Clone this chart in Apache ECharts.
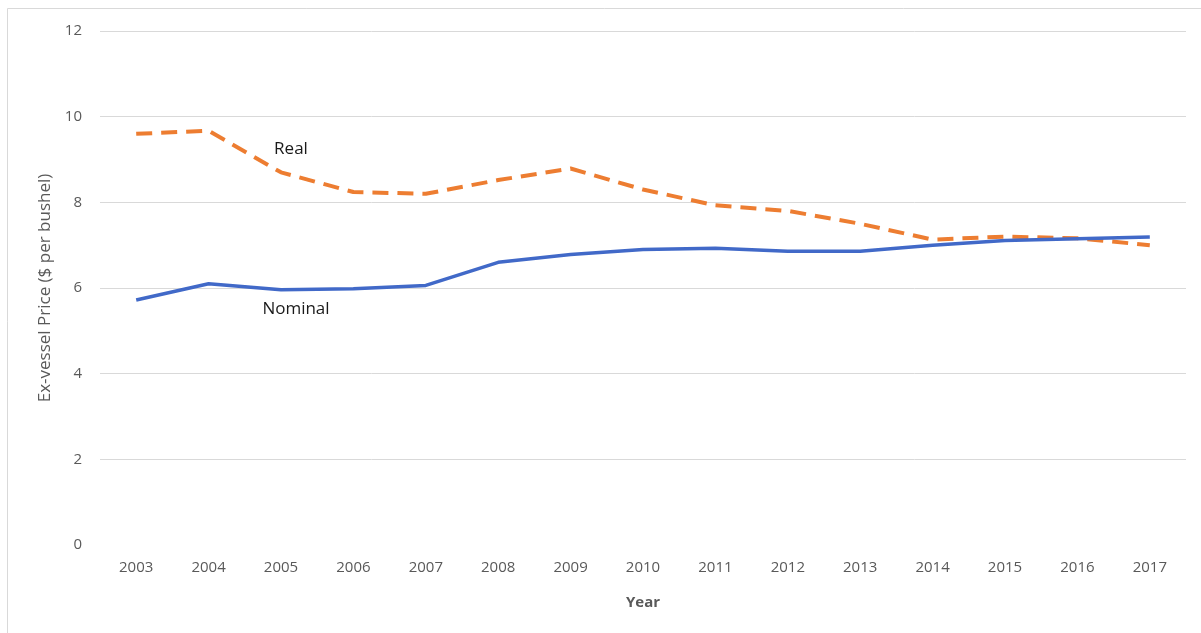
<!DOCTYPE html>
<html>
<head>
<meta charset="utf-8">
<script src="https://cdn.jsdelivr.net/npm/echarts@6/dist/echarts.min.js"></script>
<style>
  html, body { margin: 0; padding: 0; background: #fff; }
  #chart { width: 1201px; height: 633px; }
</style>
</head>
<body>
<div id="chart"></div>
<script>
// Ex-vessel price per bushel, 2003-2017
const years = ['2003', '2004', '2005', '2006', '2007', '2008', '2009', '2010',
               '2011', '2012', '2013', '2014', '2015', '2016', '2017'];
const realPrice = [9.6, 9.67, 8.7, 8.24, 8.2, 8.52, 8.79, 8.3, 7.93, 7.8, 7.5, 7.13, 7.2, 7.16, 7.0];
const nominalPrice = [5.72, 6.1, 5.96, 5.98, 6.06, 6.6, 6.78, 6.9, 6.93, 6.86, 6.86, 7.0, 7.11, 7.15, 7.19];
const yTicks = { min: 0, max: 12, interval: 2 };

const font = '"Open Sans", "Noto Sans", sans-serif';
const chart = echarts.init(document.getElementById('chart'));

chart.setOption({
  backgroundColor: '#ffffff',
  animation: false,
  graphic: [{
    type: 'rect',
    shape: { x: 7.5, y: 8.5, width: 1200, height: 640 },
    style: { fill: 'none', stroke: '#d9d9d9', lineWidth: 1 },
    silent: true
  }],
  grid: { left: 100, right: 15, top: 31, bottom: 88 },
  xAxis: {
    type: 'category',
    data: years,
    boundaryGap: true,
    name: 'Year',
    nameLocation: 'middle',
    nameGap: 50,
    nameTextStyle: { fontFamily: font, fontSize: 15, fontWeight: 'bold', color: '#595959' },
    axisLine: { show: false },
    axisTick: { show: false },
    axisLabel: { fontFamily: font, fontSize: 15, color: '#595959', margin: 15 }
  },
  yAxis: {
    type: 'value',
    min: yTicks.min,
    max: yTicks.max,
    interval: yTicks.interval,
    name: 'Ex-vessel Price ($ per bushel)',
    nameLocation: 'middle',
    nameRotate: 90,
    nameGap: 45,
    nameTextStyle: { fontFamily: font, fontSize: 17, color: '#595959' },
    axisLine: { show: false },
    axisTick: { show: false },
    axisLabel: { fontFamily: font, fontSize: 15, color: '#595959', margin: 18 },
    splitLine: {
      lineStyle: {
        color: ['rgba(0,0,0,0)', '#d9d9d9', '#d9d9d9', '#d9d9d9', '#d9d9d9', '#d9d9d9', '#d9d9d9'],
        width: 1
      }
    }
  },
  series: [
    {
      name: 'Real',
      type: 'line',
      data: realPrice,
      symbol: 'none',
      lineStyle: { color: '#ED7D31', width: 4, type: [16, 9] },
      z: 3,
      markPoint: {
        symbol: 'circle',
        symbolSize: 0,
        data: [{ coord: ['2005', 9.24] }],
        label: {
          show: true,
          formatter: 'Real',
          offset: [10, 0],
          fontFamily: font,
          fontSize: 17,
          color: '#1a1a1a'
        }
      }
    },
    {
      name: 'Nominal',
      type: 'line',
      data: nominalPrice,
      symbol: 'none',
      lineStyle: { color: '#4169C8', width: 3.5 },
      z: 4,
      markPoint: {
        symbol: 'circle',
        symbolSize: 0,
        data: [{ coord: ['2005', 5.5] }],
        label: {
          show: true,
          formatter: 'Nominal',
          offset: [15, 0],
          fontFamily: font,
          fontSize: 17,
          color: '#1a1a1a'
        }
      }
    }
  ]
});
</script>
</body>
</html>
